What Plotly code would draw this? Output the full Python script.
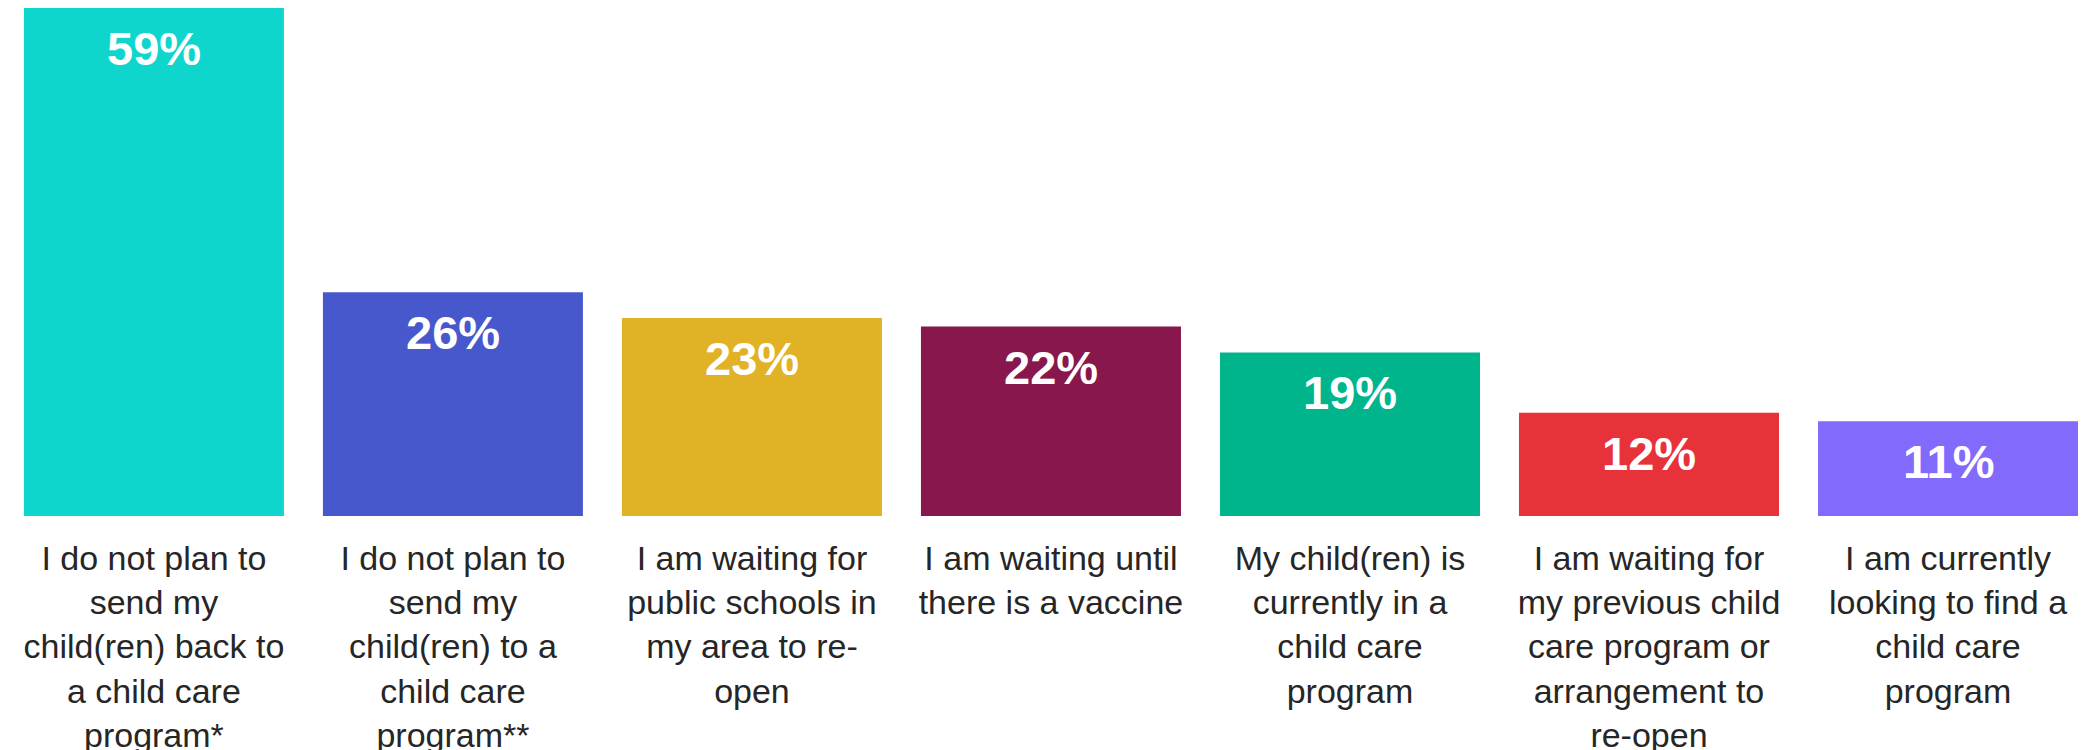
import plotly.graph_objects as go

categories = [
    "I do not plan to<br>send my<br>child(ren) back to<br>a child care<br>program*",
    "I do not plan to<br>send my<br>child(ren) to a<br>child care<br>program**",
    "I am waiting for<br>public schools in<br>my area to re-<br>open",
    "I am waiting until<br>there is a vaccine",
    "My child(ren) is<br>currently in a<br>child care<br>program",
    "I am waiting for<br>my previous child<br>care program or<br>arrangement to<br>re-open",
    "I am currently<br>looking to find a<br>child care<br>program",
]
values = [59, 26, 23, 22, 19, 12, 11]
colors = ["#0FD6CC", "#4758CC", "#E1B225", "#87174D", "#00B48C", "#E8323A", "#826AFC"]

FONT = "Liberation Sans, Arial, sans-serif"

fig = go.Figure(go.Bar(
    x=categories, y=values,
    marker=dict(color=colors, line=dict(width=0)),
    hoverinfo="skip",
))

for c, v in zip(categories, values):
    fig.add_annotation(
        x=c, y=v, yanchor="top", yshift=-12, showarrow=False,
        text=f"<b>{v}%</b>",
        font=dict(family=FONT, size=47, color="white"),
    )

fig.update_layout(
    width=2091, height=742,
    margin=dict(l=0, r=0, t=0, b=234),
    plot_bgcolor="white", paper_bgcolor="white",
    bargap=0.1304,
    showlegend=False,
)
fig.update_xaxes(
    range=[-0.488, 6.505],
    showgrid=False, showline=False, zeroline=False, ticks="",
    tickangle=0, automargin=False,
    tickfont=dict(family=FONT, size=34, color="#262626"),
    ticklabelstandoff=19,
)
fig.update_yaxes(range=[0, 59], visible=False, showgrid=False, zeroline=False)

fig.write_html("out.html")
